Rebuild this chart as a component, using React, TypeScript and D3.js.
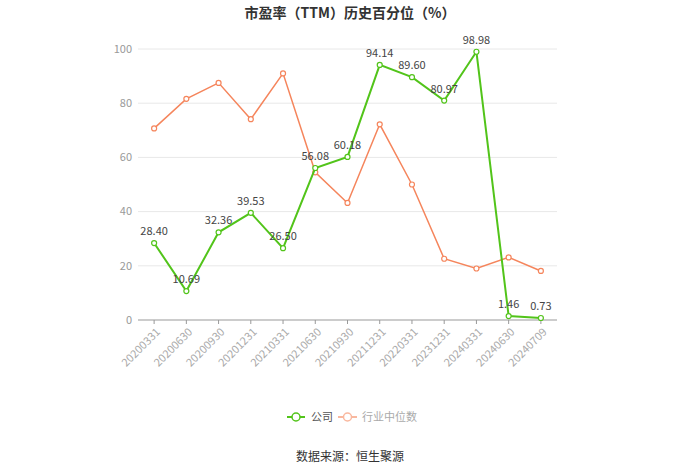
import React from "react";
import * as d3 from "d3";

const categories = ["20200331","20200630","20200930","20201231","20210331","20210630","20210930","20211231","20220331","20231231","20240331","20240630","20240709"];
const companyValues = [28.40,10.69,32.36,39.53,26.50,56.08,60.18,94.14,89.60,80.97,98.98,1.46,0.73];
const industryValues = [70.7,81.6,87.5,74.1,91.0,54.5,43.2,72.2,50.0,22.6,19.0,23.1,18.1];
const yTicks = [0,20,40,60,80,100];

const W = 700, H = 474;
const margin = { left: 138, right: 143, top: 49, bottom: 154 };
const GREEN = "#52c41a";
const ORANGE = "#f5855c";
const FONT = "'Noto Sans CJK SC', 'Noto Sans', sans-serif";

export default function App() {
  const x = d3.scaleBand<string>().domain(categories).range([margin.left, W - margin.right]);
  const y = d3.scaleLinear().domain([0, 100]).range([H - margin.bottom, margin.top]);
  const cx = (c: string) => (x(c) as number) + x.bandwidth() / 2;
  const line = d3.line<number>().x((_, i) => cx(categories[i])).y((d) => y(d));
  const y0 = y(0);

  return (
    <svg width={W} height={H} style={{ position: "absolute", left: 0, top: 0, fontFamily: FONT }}>
      <text x={350} y={18} textAnchor="middle" fontSize={14} fontWeight="bold" fill="#333">市盈率（TTM）历史百分位（%）</text>
      {yTicks.map((t) => (
        <g key={t}>
          {t !== 0 && <line x1={margin.left} x2={W - margin.right} y1={y(t)} y2={y(t)} stroke="#e8e8e8" />}
          <text x={margin.left - 6} y={y(t)} dy="0.35em" textAnchor="end" fontSize={11} fill="#999">{t}</text>
        </g>
      ))}
      <line x1={margin.left} x2={W - margin.right} y1={y0} y2={y0} stroke="#999" />
      {categories.map((c) => (
        <g key={c}>
          <line x1={cx(c)} x2={cx(c)} y1={y0} y2={y0 + 4} stroke="#999" />
          <text transform={`translate(${cx(c) + 4},${y0 + 10}) rotate(-45)`} textAnchor="end" dy="0.35em" fontSize={11} fill="#aaa">{c}</text>
        </g>
      ))}
      <path d={line(industryValues) || ""} fill="none" stroke={ORANGE} strokeWidth={1.5} />
      {industryValues.map((v, i) => (
        <circle key={i} cx={cx(categories[i])} cy={y(v)} r={2.5} fill="#fff" stroke={ORANGE} strokeWidth={1.2} />
      ))}
      <path d={line(companyValues) || ""} fill="none" stroke={GREEN} strokeWidth={2} />
      {companyValues.map((v, i) => (
        <g key={i}>
          <circle cx={cx(categories[i])} cy={y(v)} r={2.5} fill="#fff" stroke={GREEN} strokeWidth={1.2} />
          <text x={cx(categories[i])} y={y(v) - 8} textAnchor="middle" fontSize={11} fill="#444">{v.toFixed(2)}</text>
        </g>
      ))}
      <g transform="translate(0,417)">
        <line x1={287} x2={305} y1={0} y2={0} stroke={GREEN} strokeWidth={2} />
        <circle cx={296} cy={0} r={4} fill="#fff" stroke={GREEN} strokeWidth={1.5} />
        <text x={311} y={0} dy="0.35em" fontSize={11} fill="#555">公司</text>
        <line x1={338} x2={357} y1={0} y2={0} stroke="#f9b89f" strokeWidth={2} />
        <circle cx={347.5} cy={0} r={4} fill="#fff" stroke="#f9b89f" strokeWidth={1.5} />
        <text x={362} y={0} dy="0.35em" fontSize={11} fill="#aaa">行业中位数</text>
      </g>
      <text x={350} y={461} textAnchor="middle" fontSize={12} fill="#333">数据来源：恒生聚源</text>
    </svg>
  );
}
